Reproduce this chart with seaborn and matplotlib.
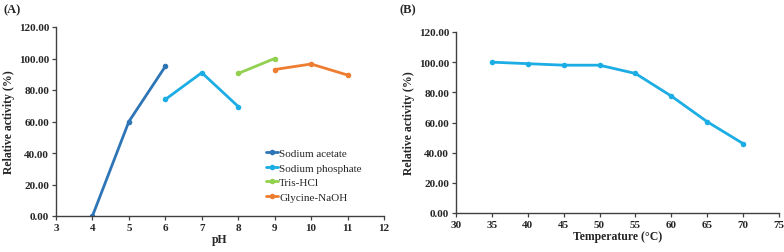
import pandas as pd
import seaborn as sns
import matplotlib.pyplot as plt

# panel A: pH profile, one segment per buffer
ACETATE_PH = [4, 5, 6]
ACETATE_ACT = [0.0, 60.0, 95.0]
PHOSPHATE_PH = [6, 7, 8]
PHOSPHATE_ACT = [74.0, 91.0, 69.5]
TRIS_PH = [8, 9]
TRIS_ACT = [90.5, 100.0]
GLYCINE_PH = [9, 10, 11]
GLYCINE_ACT = [93.0, 96.5, 89.5]

BUFFERS = ['Sodium acetate', 'Sodium phosphate', 'Tris-HCl', 'Glycine-NaOH']
BUFFER_COLORS = ['#2E75B6', '#1CADE4', '#92D050', '#ED7D31']

# panel B: temperature profile
TEMP = [35, 40, 45, 50, 55, 60, 65, 70]
TEMP_ACT = [100.0, 99.0, 98.0, 98.0, 92.5, 77.5, 60.5, 46.0]


def style_axes(ax):
    sns.despine(ax=ax)
    for side in ('left', 'bottom'):
        ax.spines[side].set_color('#404040')
        ax.spines[side].set_linewidth(1.0)
    ax.tick_params(direction='out', length=3, width=0.9, color='#404040',
                   labelsize=8, pad=2, bottom=True, left=True)
    ax.set_ylim(0, 120)
    ax.set_yticks(range(0, 121, 20))
    ax.set_yticklabels([f'{v:.2f}' for v in range(0, 121, 20)], fontweight='bold')
    for lab in ax.get_xticklabels():
        lab.set_fontweight('bold')
    ax.set_ylabel('Relative activity (%)', fontsize=8.5, fontweight='bold', labelpad=3)


def main():
    sns.set_style('white')
    plt.rcParams['font.family'] = ['Liberation Serif', 'DejaVu Serif']

    ph = pd.DataFrame({
        'pH': ACETATE_PH + PHOSPHATE_PH + TRIS_PH + GLYCINE_PH,
        'activity': ACETATE_ACT + PHOSPHATE_ACT + TRIS_ACT + GLYCINE_ACT,
        'buffer': ([BUFFERS[0]] * 3 + [BUFFERS[1]] * 3
                   + [BUFFERS[2]] * 2 + [BUFFERS[3]] * 3),
    })
    temp = pd.DataFrame({'temp': TEMP, 'activity': TEMP_ACT})

    fig = plt.figure(figsize=(7.84, 2.53), dpi=100)
    ax1 = fig.add_axes([56 / 784, 1 - 217 / 253, 328 / 784, 189 / 253])
    ax2 = fig.add_axes([456 / 784, 1 - 214 / 253, 323 / 784, 181 / 253])

    sns.lineplot(data=ph, x='pH', y='activity', hue='buffer', hue_order=BUFFERS,
                 palette=BUFFER_COLORS, marker='o', markersize=4,
                 markeredgewidth=0, linewidth=2.0, ax=ax1)
    ax1.set_xlim(3, 12)
    ax1.set_xticks(range(3, 13))
    style_axes(ax1)
    ax1.set_xlabel('pH', fontsize=8.5, fontweight='bold', labelpad=1)
    leg = ax1.legend(loc='lower right', bbox_to_anchor=(0.945, 0.05), frameon=False,
                     fontsize=8, handlelength=1.1, handletextpad=0.1,
                     labelspacing=0.45, borderaxespad=0)
    for line in leg.get_lines():
        line.set_linewidth(2.0)

    sns.lineplot(data=temp, x='temp', y='activity', color='#1CADE4', marker='o',
                 markersize=4, markeredgewidth=0, linewidth=2.0, ax=ax2)
    ax2.set_xlim(30, 75)
    ax2.set_xticks(range(30, 76, 5))
    style_axes(ax2)
    ax2.set_xlabel('Temperature (°C)', fontsize=8.5, fontweight='bold', labelpad=1)

    fig.text(4 / 784, 1 - 10 / 253, '(A)', fontsize=9, fontweight='bold', va='center')
    fig.text(399 / 784, 1 - 10 / 253, '(B)', fontsize=9, fontweight='bold', va='center')

    fig.savefig('out.png', dpi=100)


if __name__ == '__main__':
    main()
